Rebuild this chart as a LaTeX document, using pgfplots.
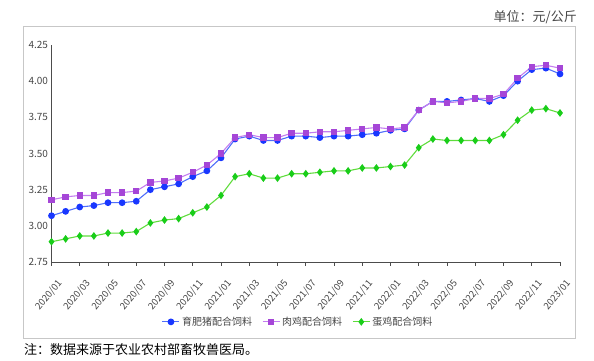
\documentclass[border=0pt]{standalone}
\usepackage{pgfplots}
\pgfplotsset{compat=1.18}
\usepackage{fontspec}
\setmainfont{Noto Sans CJK SC}
\definecolor{bmark}{RGB}{25,55,255}
\definecolor{bline}{RGB}{80,110,250}
\definecolor{pmark}{RGB}{165,70,215}
\definecolor{pline}{RGB}{195,125,240}
\definecolor{gmark}{RGB}{25,205,25}
\definecolor{gline}{RGB}{95,220,60}
\definecolor{txt}{RGB}{70,70,70}
\begin{document}
\begin{tikzpicture}
\useasboundingbox (0,0) rectangle (594pt,361pt);
\draw[black!22, line width=0.8pt] (23pt,23pt) rectangle (575pt,335pt);
\node[anchor=east, font=\fontsize{13}{15}\selectfont, text=txt, inner sep=0pt] at (577pt,344pt) {单位：元/公斤};
\node[anchor=west, font=\fontsize{13}{15}\selectfont, text=black, inner sep=0pt] at (24pt,11pt) {注：数据来源于农业农村部畜牧兽医局。};
\begin{axis}[
  at={(51.5pt,99pt)}, anchor=south west,
  scale only axis, width=508.5pt, height=217pt,
  xmin=0, xmax=36, ymin=2.75, ymax=4.25,
  axis x line*=bottom, axis y line*=left,
  axis line style={draw=black!70, line width=0.9pt},
  xtick={0,2,...,36},
  xticklabels={2020/01,2020/03,2020/05,2020/07,2020/09,2020/11,2021/01,2021/03,2021/05,2021/07,2021/09,2021/11,2022/01,2022/03,2022/05,2022/07,2022/09,2022/11,2023/01},
  x tick label style={xshift=5pt, yshift=-12pt, rotate=50, anchor=north east, font=\fontsize{9.5}{11}\selectfont, text=txt, inner sep=0pt},
  xtick align=outside, major tick length=4pt,
  xtick style={draw=black!70, line width=0.8pt},
  ytick={2.75,3.00,3.25,3.50,3.75,4.00,4.25},
  yticklabel style={/pgf/number format/fixed, /pgf/number format/precision=2, /pgf/number format/fixed zerofill, font=\fontsize{10}{12}\selectfont, text=txt},
  /pgf/number format/assume math mode=true,
  ytick style={draw=none},
  clip=false,
  legend style={at={(0.485,-0.276)}, anchor=center, legend columns=3, draw=none, fill=none, font=\fontsize{10}{12}\selectfont, text=txt, /tikz/every even column/.append style={column sep=8pt}},
  legend cell align=left,
]
\addplot[color=bline, line width=1.1pt, mark=*, mark size=2.8pt, mark options={fill=bmark, draw=bmark}] coordinates {
(0,3.07)(1,3.10)(2,3.13)(3,3.14)(4,3.16)(5,3.16)(6,3.17)(7,3.25)(8,3.27)(9,3.29)(10,3.34)(11,3.38)(12,3.47)(13,3.60)(14,3.62)(15,3.59)(16,3.59)(17,3.62)(18,3.62)(19,3.61)(20,3.62)(21,3.62)(22,3.63)(23,3.64)(24,3.66)(25,3.67)(26,3.80)(27,3.86)(28,3.86)(29,3.87)(30,3.88)(31,3.86)(32,3.90)(33,4.00)(34,4.08)(35,4.09)(36,4.05)};
\addlegendentry{育肥猪配合饲料}
\addplot[color=pline, line width=1.1pt, mark=square*, mark size=2.6pt, mark options={fill=pmark, draw=pmark}] coordinates {
(0,3.18)(1,3.20)(2,3.21)(3,3.21)(4,3.23)(5,3.23)(6,3.24)(7,3.30)(8,3.31)(9,3.33)(10,3.37)(11,3.42)(12,3.50)(13,3.61)(14,3.63)(15,3.61)(16,3.61)(17,3.64)(18,3.64)(19,3.65)(20,3.65)(21,3.66)(22,3.67)(23,3.68)(24,3.67)(25,3.68)(26,3.80)(27,3.86)(28,3.85)(29,3.86)(30,3.88)(31,3.88)(32,3.91)(33,4.02)(34,4.10)(35,4.11)(36,4.09)};
\addlegendentry{肉鸡配合饲料}
\addplot[color=gline, line width=1.1pt, mark=diamond*, mark size=3pt, mark options={fill=gmark, draw=gmark}] coordinates {
(0,2.89)(1,2.91)(2,2.93)(3,2.93)(4,2.95)(5,2.95)(6,2.96)(7,3.02)(8,3.04)(9,3.05)(10,3.09)(11,3.13)(12,3.21)(13,3.34)(14,3.36)(15,3.33)(16,3.33)(17,3.36)(18,3.36)(19,3.37)(20,3.38)(21,3.38)(22,3.40)(23,3.40)(24,3.41)(25,3.42)(26,3.54)(27,3.60)(28,3.59)(29,3.59)(30,3.59)(31,3.59)(32,3.63)(33,3.73)(34,3.80)(35,3.81)(36,3.78)};
\addlegendentry{蛋鸡配合饲料}
\end{axis}
\end{tikzpicture}
\end{document}
